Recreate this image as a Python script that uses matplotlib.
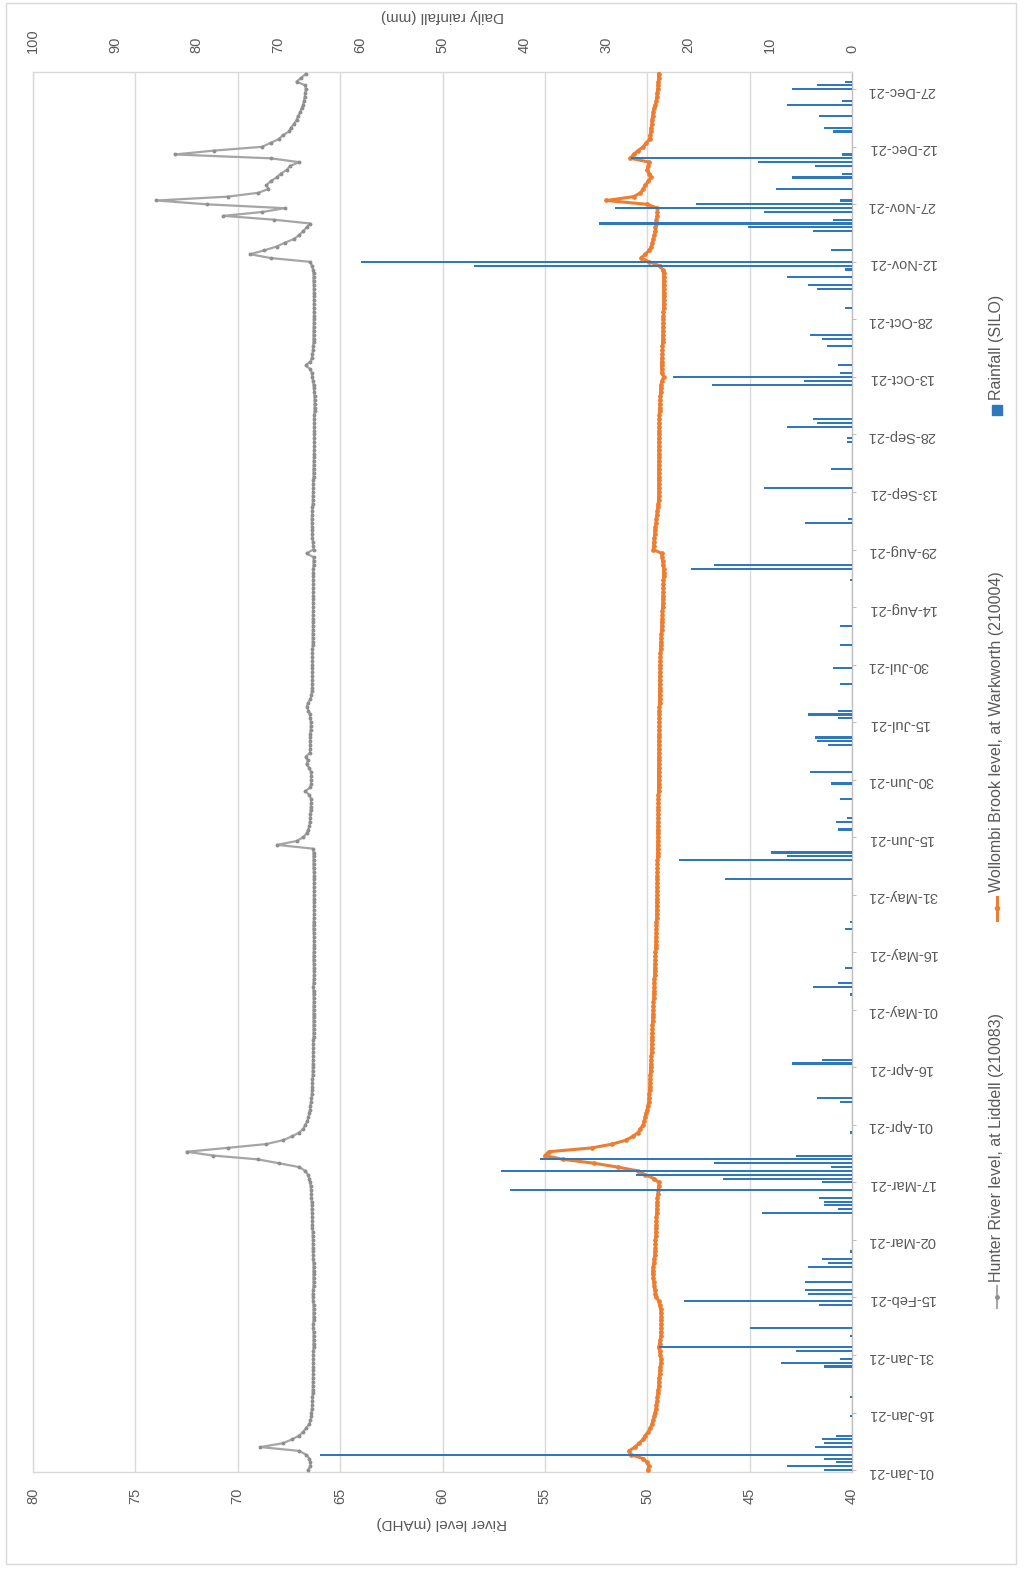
"""River levels at Liddell and Warkworth with daily rainfall, 2021.

Drawn turned on its side: dates run bottom to top, levels right to left.
"""
import numpy as np
import matplotlib
matplotlib.use("Agg")
import matplotlib.pyplot as plt
from matplotlib.lines import Line2D
from matplotlib.patches import Rectangle

W_PX, H_PX = 1024, 1571
OUT_PATH = "out.png"

GRAY = "#a5a5a5"
GRAY_MARK = "#8f8f8f"
ORANGE = "#ed7d31"
BLUE = "#2f78bd"
TEXT = "#595959"
GRID = "#d9d9d9"

# date axis, one label every 15 days (day 0 = 01-Jan-21)
TICK_DAYS = list(range(0, 361, 15))
DATE_LABELS = ["01-Jan-21", "16-Jan-21", "31-Jan-21", "15-Feb-21", "02-Mar-21",
               "17-Mar-21", "01-Apr-21", "16-Apr-21", "01-May-21", "16-May-21",
               "31-May-21", "15-Jun-21", "30-Jun-21", "15-Jul-21", "30-Jul-21",
               "14-Aug-21", "29-Aug-21", "13-Sep-21", "28-Sep-21", "13-Oct-21",
               "28-Oct-21", "12-Nov-21", "27-Nov-21", "12-Dec-21", "27-Dec-21"]

# Hunter River level at Liddell (210083), mAHD, daily by month
HUNTER_JAN = [66.57, 66.45, 66.45, 66.5, 66.65, 67.0, 68.9, 67.8, 67.35, 67.0,
              66.8, 66.65, 66.5, 66.45, 66.4, 66.4, 66.38, 66.36, 66.35, 66.35,
              66.34, 66.34, 66.33, 66.33, 66.33, 66.32, 66.32, 66.32, 66.32, 66.31, 66.31]
HUNTER_FEB = [66.31, 66.3, 66.3, 66.3, 66.3, 66.3, 66.32, 66.32, 66.3, 66.3,
              66.3, 66.3, 66.3, 66.32, 66.33, 66.33, 66.32, 66.3, 66.3, 66.3,
              66.3, 66.3, 66.3, 66.3, 66.32, 66.32, 66.33, 66.33]
HUNTER_MAR = [66.33, 66.33, 66.34, 66.34, 66.35, 66.35, 66.36, 66.36, 66.37, 66.38,
              66.38, 66.39, 66.4, 66.4, 66.42, 66.44, 66.46, 66.5, 66.57, 66.7,
              67.0, 68.0, 69.0, 71.2, 72.5, 70.5, 68.6, 67.8, 67.35, 67.0, 66.8]
HUNTER_APR = [66.7, 66.6, 66.55, 66.5, 66.47, 66.45, 66.42, 66.4, 66.38, 66.37,
              66.36, 66.35, 66.35, 66.34, 66.34, 66.33, 66.33, 66.32, 66.32, 66.32,
              66.31, 66.31, 66.31, 66.3, 66.3, 66.3, 66.3, 66.3, 66.3, 66.3]
HUNTER_MAY = [66.3, 66.3, 66.29, 66.29, 66.3, 66.3, 66.31, 66.3, 66.29, 66.28,
              66.28, 66.28, 66.29, 66.3, 66.3, 66.29, 66.28, 66.28, 66.28, 66.28,
              66.29, 66.3, 66.3, 66.29, 66.28, 66.28, 66.28, 66.28, 66.28, 66.28, 66.28]
HUNTER_JUN = [66.28, 66.28, 66.28, 66.28, 66.28, 66.28, 66.3, 66.3, 66.3, 66.3,
              66.3, 66.32, 68.07, 67.13, 66.8, 66.64, 66.55, 66.5, 66.48, 66.46,
              66.45, 66.44, 66.43, 66.42, 66.42, 66.5, 66.7, 66.45, 66.42, 66.42]
HUNTER_JUL = [66.42, 66.42, 66.5, 66.64, 66.58, 66.68, 66.48, 66.46, 66.46, 66.46,
              66.46, 66.46, 66.44, 66.43, 66.43, 66.45, 66.48, 66.55, 66.62, 66.57,
              66.45, 66.4, 66.38, 66.37, 66.36, 66.36, 66.35, 66.35, 66.35, 66.35, 66.35]
HUNTER_AUG = [66.35, 66.35, 66.35, 66.34, 66.34, 66.34, 66.34, 66.33, 66.33, 66.33,
              66.33, 66.33, 66.32, 66.32, 66.32, 66.32, 66.32, 66.32, 66.31, 66.31,
              66.31, 66.31, 66.31, 66.31, 66.3, 66.3, 66.3, 66.64, 66.3, 66.32, 66.33]
HUNTER_SEP = [66.35, 66.36, 66.36, 66.37, 66.38, 66.38, 66.37, 66.36, 66.35, 66.34,
              66.33, 66.33, 66.32, 66.32, 66.31, 66.31, 66.3, 66.3, 66.3, 66.29,
              66.29, 66.28, 66.28, 66.27, 66.27, 66.27, 66.26, 66.26, 66.26, 66.26]
HUNTER_OCT = [66.26, 66.26, 66.26, 66.25, 66.25, 66.25, 66.25, 66.25, 66.26, 66.28,
              66.3, 66.33, 66.35, 66.38, 66.45, 66.68, 66.45, 66.38, 66.35, 66.33,
              66.32, 66.3, 66.3, 66.3, 66.3, 66.29, 66.29, 66.28, 66.28, 66.28, 66.28]
HUNTER_NOV = [66.28, 66.28, 66.28, 66.28, 66.28, 66.29, 66.3, 66.3, 66.3, 66.32,
              66.38, 66.46, 68.4, 69.4, 68.7, 68.1, 67.7, 67.24, 67.0, 66.8,
              66.64, 66.46, 68.25, 70.7, 68.8, 67.7, 71.5, 73.97, 70.5, 69.0]
HUNTER_DEC = [68.5, 68.6, 68.4, 68.1, 67.9, 67.6, 67.45, 67.0, 68.4, 73.07,
              71.17, 68.81, 68.4, 68.0, 67.8, 67.5, 67.4, 67.24, 67.13, 67.05,
              66.95, 66.88, 66.8, 66.76, 66.73, 66.7, 66.68, 66.7, 67.13, 66.9, 66.68]

# Wollombi Brook level at Warkworth (210004), mAHD, daily by month
WOLLOMBI_JAN = [49.97, 49.93, 50.0, 50.2, 50.8, 50.9, 50.6, 50.4, 50.2, 50.1,
                49.95, 49.85, 49.77, 49.72, 49.66, 49.62, 49.58, 49.55, 49.52, 49.5,
                49.48, 49.46, 49.44, 49.43, 49.42, 49.4, 49.38, 49.36, 49.34, 49.32, 49.36]
WOLLOMBI_FEB = [49.4, 49.44, 49.4, 49.36, 49.34, 49.33, 49.32, 49.32, 49.32, 49.32,
                49.33, 49.35, 49.4, 49.44, 49.55, 49.6, 49.63, 49.66, 49.68, 49.7,
                49.72, 49.73, 49.71, 49.68, 49.66, 49.64, 49.62, 49.6]
WOLLOMBI_MAR = [49.6, 49.6, 49.58, 49.58, 49.57, 49.56, 49.55, 49.55, 49.54, 49.53,
                49.52, 49.5, 49.5, 49.48, 49.46, 49.44, 49.44, 49.66, 50.1, 50.45,
                51.45, 52.6, 54.1, 55.0, 54.8, 52.7, 51.7, 51.05, 50.7, 50.45, 50.33]
WOLLOMBI_APR = [50.2, 50.15, 50.1, 50.05, 50.0, 49.97, 49.93, 49.91, 49.9, 49.89,
                49.88, 49.87, 49.86, 49.85, 49.84, 49.83, 49.82, 49.81, 49.8, 49.79,
                49.78, 49.78, 49.77, 49.77, 49.76, 49.75, 49.75, 49.74, 49.73, 49.72]
WOLLOMBI_MAY = [49.71, 49.7, 49.7, 49.69, 49.68, 49.67, 49.66, 49.66, 49.65, 49.64,
                49.63, 49.63, 49.62, 49.61, 49.6, 49.6, 49.59, 49.58, 49.58, 49.57,
                49.56, 49.56, 49.55, 49.55, 49.54, 49.54, 49.53, 49.53, 49.53, 49.52, 49.52]
WOLLOMBI_JUN = [49.52, 49.52, 49.51, 49.51, 49.51, 49.5, 49.5, 49.5, 49.5, 49.49,
                49.49, 49.49, 49.49, 49.48, 49.48, 49.48, 49.48, 49.48, 49.47, 49.47,
                49.47, 49.47, 49.46, 49.46, 49.46, 49.46, 49.45, 49.45, 49.45, 49.45]
WOLLOMBI_JUL = [49.45, 49.45, 49.44, 49.44, 49.44, 49.44, 49.43, 49.43, 49.43, 49.43,
                49.43, 49.42, 49.42, 49.42, 49.42, 49.41, 49.41, 49.41, 49.41, 49.4,
                49.4, 49.4, 49.4, 49.39, 49.39, 49.39, 49.39, 49.38, 49.38, 49.37, 49.37]
WOLLOMBI_AUG = [49.36, 49.36, 49.35, 49.34, 49.33, 49.32, 49.31, 49.3, 49.29, 49.28,
                49.27, 49.26, 49.26, 49.25, 49.24, 49.23, 49.23, 49.22, 49.22, 49.21,
                49.21, 49.2, 49.2, 49.2, 49.22, 49.25, 49.28, 49.3, 49.7, 49.69, 49.67]
WOLLOMBI_SEP = [49.66, 49.64, 49.62, 49.6, 49.57, 49.55, 49.53, 49.5, 49.48, 49.46,
                49.45, 49.44, 49.44, 49.44, 49.44, 49.44, 49.44, 49.44, 49.44, 49.44,
                49.43, 49.43, 49.43, 49.43, 49.43, 49.43, 49.43, 49.42, 49.42, 49.42]
WOLLOMBI_OCT = [49.42, 49.41, 49.41, 49.4, 49.39, 49.38, 49.37, 49.36, 49.35, 49.34,
                49.32, 49.28, 49.2, 49.28, 49.3, 49.3, 49.29, 49.28, 49.27, 49.26,
                49.26, 49.25, 49.24, 49.24, 49.23, 49.23, 49.22, 49.22, 49.21, 49.21, 49.2]
WOLLOMBI_NOV = [49.2, 49.2, 49.2, 49.2, 49.2, 49.2, 49.2, 49.2, 49.2, 49.25,
                49.4, 49.9, 50.3, 50.1, 49.9, 49.8, 49.75, 49.7, 49.65, 49.6,
                49.6, 49.55, 49.55, 49.52, 49.5, 49.5, 50.0, 52.0, 50.67, 50.33]
WOLLOMBI_DEC = [50.2, 50.1, 49.95, 49.84, 49.9, 50.0, 49.95, 49.9, 50.82, 50.67,
                50.45, 50.2, 50.05, 49.89, 49.85, 49.82, 49.8, 49.78, 49.77, 49.74,
                49.7, 49.66, 49.6, 49.55, 49.53, 49.51, 49.49, 49.47, 49.46, 49.45, 49.44]

# SILO daily rainfall (mm); days with no rain are left out
RAIN_DAY = [0, 1, 2, 3, 4, 6, 7, 8, 9, 14, 19, 27, 28, 29, 31, 32, 35, 37, 43, 44,
            46, 47, 49, 53, 54, 55, 57, 67, 68, 69, 70, 71, 73, 75, 76, 77, 78, 79, 80, 81,
            82, 88, 96, 97, 106, 107, 124, 126, 127, 131, 141, 143, 154, 159, 160, 161, 167, 169, 170, 175,
            179, 182, 189, 190, 191, 196, 197, 198, 205, 209, 215, 220, 232, 235, 236, 247, 248, 256, 261, 268,
            269, 272, 273, 274, 283, 284, 285, 286, 288, 293, 295, 296, 303, 308, 309, 311, 313, 314, 315, 318,
            323, 324, 325, 326, 328, 329, 330, 331, 334, 337, 338, 340, 341, 342, 343, 349, 350, 353, 356, 357,
            360, 361, 362]
RAIN_MM = [3.4, 7.9, 2.0, 3.4, 65.0, 4.5, 3.4, 3.7, 2.0, 0.3, 0.3, 3.4, 8.7, 1.5, 6.8, 23.6, 0.3, 12.4, 4.0, 20.5,
           5.4, 5.7, 5.7, 5.4, 2.9, 3.7, 0.3, 11.0, 1.7, 3.4, 3.4, 4.0, 41.8, 3.7, 15.7, 26.4, 42.9, 2.6, 16.9, 38.1,
           6.8, 0.3, 1.5, 4.3, 7.3, 3.7, 0.3, 4.8, 1.7, 0.9, 0.9, 0.3, 15.5, 21.1, 7.9, 9.9, 1.7, 2.0, 0.6, 1.5,
           2.6, 5.1, 2.9, 4.3, 4.5, 1.7, 5.4, 1.7, 1.5, 2.3, 1.5, 1.5, 0.3, 19.7, 16.9, 5.7, 0.5, 10.7, 2.6, 0.6,
           0.6, 7.9, 4.3, 4.8, 17.1, 5.9, 21.9, 1.5, 1.7, 3.1, 3.7, 5.1, 0.9, 4.3, 5.4, 7.9, 0.9, 46.2, 60.0, 2.6,
           4.8, 12.7, 30.9, 2.3, 10.7, 28.9, 19.1, 1.5, 9.3, 7.3, 1.2, 4.5, 11.5, 27.0, 1.2, 2.3, 3.4, 4.0, 7.9, 1.2,
           7.3, 4.3, 0.9]


def fx(px):
    return px / W_PX


def fy(py):
    return 1 - py / H_PX


def plot_chart():
    plt.rcParams["font.family"] = ["Liberation Sans", "DejaVu Sans"]
    fig = plt.figure(figsize=(W_PX / 100, H_PX / 100), dpi=100)

    hunter = np.concatenate([HUNTER_JAN, HUNTER_FEB, HUNTER_MAR, HUNTER_APR, HUNTER_MAY, HUNTER_JUN,
                             HUNTER_JUL, HUNTER_AUG, HUNTER_SEP, HUNTER_OCT, HUNTER_NOV, HUNTER_DEC])
    wollombi = np.concatenate([WOLLOMBI_JAN, WOLLOMBI_FEB, WOLLOMBI_MAR, WOLLOMBI_APR, WOLLOMBI_MAY,
                               WOLLOMBI_JUN, WOLLOMBI_JUL, WOLLOMBI_AUG, WOLLOMBI_SEP, WOLLOMBI_OCT,
                               WOLLOMBI_NOV, WOLLOMBI_DEC])
    days = np.arange(len(hunter))

    # plot area: 80 mAHD on the left edge, 40 mAHD on the right
    ax = fig.add_axes([fx(33), fy(1472), (852 - 33) / W_PX, (1472 - 72) / H_PX])
    ax.plot(hunter, days, color=GRAY, lw=1.6, marker="o", ms=1.8,
            mfc=GRAY_MARK, mec=GRAY_MARK, zorder=3)
    ax.plot(wollombi, days, color=ORANGE, lw=2.2, marker="o", ms=2.4,
            mfc=ORANGE, mec=ORANGE, zorder=4)

    ax.set_xticks(np.arange(40, 81, 5))
    ax.tick_params(axis="x", length=0, pad=11, labelsize=10.5, labelcolor=TEXT, labelrotation=90)
    ax.grid(axis="x", color=GRID, lw=1)
    ax.set_axisbelow(True)

    ax.yaxis.tick_right()
    ax.set_yticks(TICK_DAYS)
    ax.set_yticklabels(DATE_LABELS)
    ax.tick_params(axis="y", length=3, color="#bfbfbf", pad=8, labelsize=10.5,
                   labelcolor=TEXT, labelrotation=180)
    for side, spine in ax.spines.items():
        spine.set_color("#bfbfbf" if side == "right" else GRID)
        spine.set_linewidth(1)

    # rainfall on the secondary axis, 0 mm at the right edge
    ax2 = ax.twiny()
    ax2.barh(RAIN_DAY, RAIN_MM, height=0.55, color=BLUE, lw=0, zorder=5)
    ax2.set_xlim(100, 0)
    ax2.set_xticks(np.arange(0, 101, 10))
    ax2.tick_params(axis="x", length=0, pad=14, labelsize=10.5, labelcolor=TEXT, labelrotation=90)
    for spine in ax2.spines.values():
        spine.set_visible(False)

    ax.set_xlim(80, 40)
    ax.set_ylim(-0.5, len(days) - 0.5)

    fig.text(fx(442), fy(1523), "River level (mAHD)", rotation=180, ha="center", va="center",
             fontsize=11, color=TEXT)
    fig.text(fx(442), fy(16), "Daily rainfall (mm)", rotation=180, ha="center", va="center",
             fontsize=11, color=TEXT)

    # legend, written sideways down the right edge
    lx = fx(997)
    fig.add_artist(Line2D([lx, lx], [fy(1308), fy(1286)], color=GRAY, lw=1.4))
    fig.add_artist(Line2D([lx], [fy(1297)], color=GRAY_MARK, marker="o", ms=2.5))
    fig.text(lx, fy(1282), "Hunter River level, at Liddell (210083)", rotation=90,
             ha="center", va="bottom", fontsize=11.5, color=TEXT)
    fig.add_artist(Line2D([lx, lx], [fy(920), fy(897)], color=ORANGE, lw=2.2))
    fig.add_artist(Line2D([lx], [fy(908)], color=ORANGE, marker="o", ms=3))
    fig.text(lx, fy(892), "Wollombi Brook level, at Warkworth (210004)", rotation=90,
             ha="center", va="bottom", fontsize=11.5, color=TEXT)
    fig.add_artist(Rectangle((fx(992), fy(415)), 10 / W_PX, 10 / H_PX, color=BLUE,
                             transform=fig.transFigure))
    fig.text(lx, fy(400), "Rainfall (SILO)", rotation=90, ha="center", va="bottom",
             fontsize=11.5, color=TEXT)

    # chart area border
    fig.add_artist(Rectangle((fx(6), fy(1564)), (1016 - 6) / W_PX, (1564 - 3) / H_PX,
                             fill=False, ec=GRID, lw=1, transform=fig.transFigure))

    fig.savefig(OUT_PATH, dpi=100)
    plt.close(fig)


def main():
    plot_chart()
    print(f"Saved chart to {OUT_PATH}")


if __name__ == "__main__":
    main()
